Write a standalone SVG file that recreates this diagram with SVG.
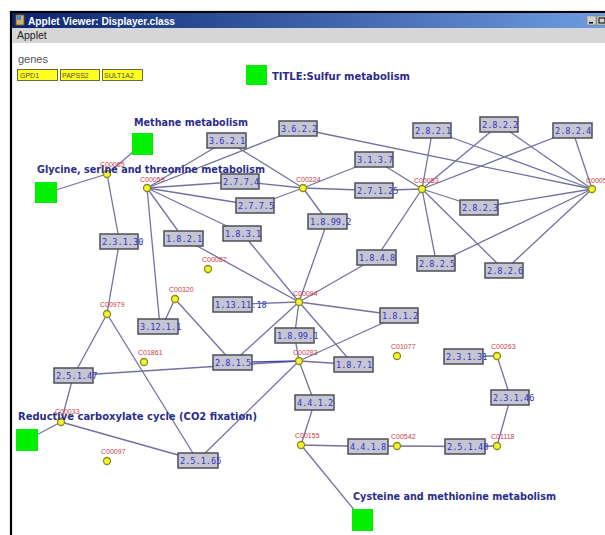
<svg xmlns="http://www.w3.org/2000/svg" width="605" height="535" viewBox="0 0 605 535">
  <defs>
    <linearGradient id="titlebar" x1="0" y1="0" x2="1" y2="0">
      <stop offset="0" stop-color="#0a2470"/>
      <stop offset="1" stop-color="#6e9ce0"/>
    </linearGradient>
    <style>
      .edge { stroke: #7272a0; stroke-width: 1.3; fill: none; }
      .enz rect { fill: #c6c6d2; stroke: #4e4e58; stroke-width: 1.5; }
      .enz text { font-family: "DejaVu Sans Mono", "Liberation Mono", monospace; font-size: 8.6px; fill: #3434c4; }
      .cpd circle { fill: #f4f43c; stroke: #8a8a10; stroke-width: 1.3; }
      .cpd text { font-family: "Liberation Sans", Arial, sans-serif; font-size: 7px; fill: #c8404a; }
      .map rect { fill: #00f000; }
      .map text { font-family: "DejaVu Sans", Verdana, sans-serif; font-weight: bold; font-size: 10px; fill: #2c2c8a; }
      .gene rect { fill: #ffff22; stroke: #6a6a40; stroke-width: 1; }
      .gene text { font-family: "Liberation Sans", Arial, sans-serif; font-size: 7px; fill: #505020; }
    </style>
  </defs>

  <rect width="605" height="535" fill="#ffffff"/>

  <!-- window chrome -->
  <g id="window">
    <rect x="11" y="12" width="600" height="530" fill="#ffffff" stroke="#000000" stroke-width="2.2"/>
    <rect x="12" y="13" width="593" height="15" fill="url(#titlebar)"/>
    <rect x="16" y="15" width="8" height="10" fill="#d8b060" stroke="#7a5a20" stroke-width="0.8"/>
    <rect x="17" y="16" width="4" height="4" fill="#4a8ad0"/>
    <text x="28" y="24.5" font-family="Liberation Sans, Arial, sans-serif" font-weight="bold" font-size="10.5" fill="#ffffff" textLength="147" lengthAdjust="spacingAndGlyphs">Applet Viewer: Displayer.class</text>
    <rect x="587" y="16" width="9" height="9" fill="#d4d0c8" stroke="#808080" stroke-width="0.6"/>
    <rect x="589" y="22" width="4" height="1.5" fill="#000"/>
    <rect x="597" y="16" width="9" height="9" fill="#d4d0c8" stroke="#808080" stroke-width="0.6"/>
    <rect x="599" y="18" width="6" height="5" fill="none" stroke="#000" stroke-width="1"/>
    <rect x="12" y="28" width="593" height="15" fill="#d6d6d6"/>
    <text x="17" y="39" font-family="Liberation Sans, Arial, sans-serif" font-size="10.5" fill="#222">Applet</text>
    <text x="18" y="63" font-family="Liberation Sans, Arial, sans-serif" font-size="11" fill="#555">genes</text>
  </g>

  <g id="genes">
    <g class="gene" id="gene-GPD1"><rect x="17.5" y="69.5" width="40" height="11"/><text x="20" y="78">GPD1</text></g>
    <g class="gene" id="gene-PAPSS2"><rect x="60.5" y="69.5" width="39" height="11"/><text x="62" y="78">PAPSS2</text></g>
    <g class="gene" id="gene-SULT1A2"><rect x="102.5" y="69.5" width="40" height="11"/><text x="104" y="78">SULT1A2</text></g>
  </g>

  <!-- connectors -->
  <g id="connectors" class="edge">
    <line x1="107" y1="174" x2="142.5" y2="144"/>
    <line x1="107" y1="174" x2="46" y2="193"/>
    <line x1="107" y1="174" x2="119.5" y2="241.5"/>
    <line x1="119.5" y1="241.5" x2="107" y2="314"/>
    <line x1="107" y1="314" x2="73.5" y2="375.5"/>
    <line x1="107" y1="314" x2="197.5" y2="460.5"/>
    <line x1="73.5" y1="375.5" x2="61" y2="422"/>
    <line x1="73.5" y1="375.5" x2="299" y2="361"/>
    <line x1="61" y1="422" x2="197.5" y2="460.5"/>
    <line x1="61" y1="422" x2="27" y2="440"/>
    <line x1="197.5" y1="460.5" x2="299" y2="361"/>
    <line x1="147" y1="188" x2="226.5" y2="140.5"/>
    <line x1="147" y1="188" x2="298.5" y2="128.5"/>
    <line x1="147" y1="188" x2="240.5" y2="181.5"/>
    <line x1="147" y1="188" x2="255.5" y2="205.5"/>
    <line x1="147" y1="188" x2="183.5" y2="238.5"/>
    <line x1="147" y1="188" x2="242.5" y2="233.5"/>
    <line x1="147" y1="188" x2="160" y2="326.5"/>
    <line x1="226.5" y1="140.5" x2="303" y2="188"/>
    <line x1="298.5" y1="128.5" x2="592" y2="189"/>
    <line x1="240.5" y1="181.5" x2="303" y2="188"/>
    <line x1="255.5" y1="205.5" x2="303" y2="188"/>
    <line x1="183.5" y1="238.5" x2="299" y2="302"/>
    <line x1="242.5" y1="233.5" x2="299" y2="302"/>
    <line x1="303" y1="188" x2="374.5" y2="159.5"/>
    <line x1="303" y1="188" x2="374.5" y2="190.5"/>
    <line x1="303" y1="188" x2="327.5" y2="221.5"/>
    <line x1="327.5" y1="221.5" x2="299" y2="302"/>
    <line x1="374.5" y1="159.5" x2="422" y2="189"/>
    <line x1="374.5" y1="190.5" x2="422" y2="189"/>
    <line x1="422" y1="189" x2="432.5" y2="130.5"/>
    <line x1="422" y1="189" x2="499.5" y2="124.5"/>
    <line x1="422" y1="189" x2="572.5" y2="130.5"/>
    <line x1="422" y1="189" x2="479.5" y2="207.5"/>
    <line x1="422" y1="189" x2="436.5" y2="263.5"/>
    <line x1="422" y1="189" x2="504.5" y2="270.5"/>
    <line x1="422" y1="189" x2="376.5" y2="257.5"/>
    <line x1="592" y1="189" x2="432.5" y2="130.5"/>
    <line x1="592" y1="189" x2="499.5" y2="124.5"/>
    <line x1="592" y1="189" x2="572.5" y2="130.5"/>
    <line x1="592" y1="189" x2="479.5" y2="207.5"/>
    <line x1="592" y1="189" x2="436.5" y2="263.5"/>
    <line x1="592" y1="189" x2="504.5" y2="270.5"/>
    <line x1="376.5" y1="257.5" x2="299" y2="302"/>
    <line x1="299" y1="302" x2="232.5" y2="304.5"/>
    <line x1="299" y1="302" x2="399.5" y2="315.5"/>
    <line x1="299" y1="302" x2="294.5" y2="335.5"/>
    <line x1="299" y1="302" x2="232.5" y2="362.5"/>
    <line x1="299" y1="302" x2="353.5" y2="364.5"/>
    <line x1="399.5" y1="315.5" x2="299" y2="361"/>
    <line x1="294.5" y1="335.5" x2="299" y2="361"/>
    <line x1="353.5" y1="364.5" x2="299" y2="361"/>
    <line x1="232.5" y1="362.5" x2="299" y2="361" stroke="#4848a8"/>
    <line x1="175" y1="299" x2="162" y2="326.5"/>
    <line x1="175" y1="299" x2="232.5" y2="362.5"/>
    <line x1="299" y1="361" x2="314.5" y2="402.5"/>
    <line x1="314.5" y1="402.5" x2="301" y2="445"/>
    <line x1="301" y1="445" x2="367.5" y2="446.5"/>
    <line x1="367.5" y1="446.5" x2="397" y2="446"/>
    <line x1="397" y1="446" x2="464.5" y2="446.5"/>
    <line x1="464.5" y1="446.5" x2="497" y2="446"/>
    <line x1="497" y1="446" x2="510.5" y2="397.5"/>
    <line x1="510.5" y1="397.5" x2="497" y2="356"/>
    <line x1="497" y1="356" x2="463.5" y2="356.5"/>
    <line x1="301" y1="445" x2="362.5" y2="520"/>
  </g>

  <!-- pathway map links -->
  <g id="map-methane" class="map"><rect x="132" y="133" width="21" height="22"/></g>
  <g id="map-glycine" class="map"><rect x="35" y="182" width="22" height="21"/></g>
  <g id="map-reductive" class="map"><rect x="16" y="429" width="22" height="22"/></g>
  <g id="map-cysteine" class="map"><rect x="352" y="509" width="21" height="22"/></g>
  <g id="map-title" class="map"><rect x="246" y="65" width="21" height="20"/></g>

  <!-- enzymes -->
  <g id="e-3.6.2.2" class="enz"><rect x="279" y="121" width="38" height="15"/><text x="281" y="132">3.6.2.2</text></g>
  <g id="e-3.6.2.1" class="enz"><rect x="207" y="133" width="39" height="15"/><text x="209" y="144">3.6.2.1</text></g>
  <g id="e-2.7.7.4" class="enz"><rect x="221" y="174" width="38" height="15"/><text x="223" y="185">2.7.7.4</text></g>
  <g id="e-2.7.7.5" class="enz"><rect x="236" y="198" width="38" height="15"/><text x="238" y="209">2.7.7.5</text></g>
  <g id="e-1.8.3.1" class="enz"><rect x="223" y="226" width="38" height="15"/><text x="225" y="237">1.8.3.1</text></g>
  <g id="e-3.1.3.7" class="enz"><rect x="355" y="152" width="38" height="15"/><text x="357" y="163">3.1.3.7</text></g>
  <g id="e-2.7.1.25" class="enz"><rect x="355" y="183" width="38" height="15"/><text x="357" y="194">2.7.1.25</text></g>
  <g id="e-1.8.99.2" class="enz"><rect x="308" y="214" width="39" height="15"/><text x="310" y="225">1.8.99.2</text></g>
  <g id="e-1.8.2.1" class="enz"><rect x="164" y="231" width="39" height="15"/><text x="166" y="242">1.8.2.1</text></g>
  <g id="e-2.3.1.30" class="enz"><rect x="100" y="234" width="38" height="15"/><text x="102" y="245">2.3.1.30</text></g>
  <g id="e-2.8.2.1" class="enz"><rect x="413" y="123" width="38" height="15"/><text x="415" y="134">2.8.2.1</text></g>
  <g id="e-2.8.2.2" class="enz"><rect x="480" y="117" width="38" height="15"/><text x="482" y="128">2.8.2.2</text></g>
  <g id="e-2.8.2.4" class="enz"><rect x="553" y="123" width="39" height="15"/><text x="555" y="134">2.8.2.4</text></g>
  <g id="e-2.8.2.3" class="enz"><rect x="460" y="200" width="38" height="15"/><text x="462" y="211">2.8.2.3</text></g>
  <g id="e-2.8.2.5" class="enz"><rect x="417" y="256" width="38" height="15"/><text x="419" y="267">2.8.2.5</text></g>
  <g id="e-2.8.2.6" class="enz"><rect x="485" y="263" width="38" height="15"/><text x="487" y="274">2.8.2.6</text></g>
  <g id="e-1.8.4.8" class="enz"><rect x="357" y="250" width="39" height="15"/><text x="359" y="261">1.8.4.8</text></g>
  <g id="e-1.13.11.18" class="enz"><rect x="213" y="297" width="39" height="15"/><text x="215" y="308">1.13.11.18</text></g>
  <g id="e-1.8.1.2" class="enz"><rect x="380" y="308" width="38" height="15"/><text x="382" y="319">1.8.1.2</text></g>
  <g id="e-1.8.99.1" class="enz"><rect x="275" y="328" width="39" height="15"/><text x="277" y="339">1.8.99.1</text></g>
  <g id="e-2.8.1.5" class="enz"><rect x="213" y="355" width="39" height="15"/><text x="215" y="366">2.8.1.5</text></g>
  <g id="e-1.8.7.1" class="enz"><rect x="334" y="357" width="39" height="15"/><text x="336" y="368">1.8.7.1</text></g>
  <g id="e-3.12.1.1" class="enz"><rect x="138" y="319" width="40" height="15"/><text x="140" y="330">3.12.1.1</text></g>
  <g id="e-2.5.1.47" class="enz"><rect x="54" y="368" width="39" height="15"/><text x="56" y="379">2.5.1.47</text></g>
  <g id="e-2.5.1.65" class="enz"><rect x="178" y="453" width="40" height="15"/><text x="180" y="464">2.5.1.65</text></g>
  <g id="e-4.4.1.2" class="enz"><rect x="295" y="395" width="39" height="15"/><text x="297" y="406">4.4.1.2</text></g>
  <g id="e-4.4.1.8" class="enz"><rect x="348" y="439" width="40" height="15"/><text x="350" y="450">4.4.1.8</text></g>
  <g id="e-2.5.1.48" class="enz"><rect x="445" y="439" width="40" height="15"/><text x="447" y="450">2.5.1.48</text></g>
  <g id="e-2.3.1.31" class="enz"><rect x="444" y="349" width="39" height="15"/><text x="446" y="360">2.3.1.31</text></g>
  <g id="e-2.3.1.46" class="enz"><rect x="491" y="390" width="38" height="15"/><text x="493" y="401">2.3.1.46</text></g>

  <!-- compounds -->
  <g id="C00065" class="cpd"><circle cx="107" cy="174" r="3.5"/><text x="100" y="167">C00065</text></g>
  <g id="C00059" class="cpd"><circle cx="147" cy="188" r="3.5"/><text x="140" y="182">C00059</text></g>
  <g id="C00224" class="cpd"><circle cx="303" cy="188" r="3.5"/><text x="296" y="182">C00224</text></g>
  <g id="C00053" class="cpd"><circle cx="422" cy="189" r="3.5"/><text x="414" y="183">C00053</text></g>
  <g id="C00054" class="cpd"><circle cx="592" cy="189" r="3.5"/><text x="586" y="183">C00054</text></g>
  <g id="C00094" class="cpd"><circle cx="299" cy="302" r="3.5"/><text x="293" y="296">C00094</text></g>
  <g id="C00087" class="cpd"><circle cx="208" cy="269" r="3.5"/><text x="202" y="262">C00087</text></g>
  <g id="C00320" class="cpd"><circle cx="175" cy="299" r="3.5"/><text x="169" y="292">C00320</text></g>
  <g id="C00979" class="cpd"><circle cx="107" cy="314" r="3.5"/><text x="100" y="307">C00979</text></g>
  <g id="C01861" class="cpd"><circle cx="144" cy="362" r="3.5"/><text x="138" y="355">C01861</text></g>
  <g id="C00283" class="cpd"><circle cx="299" cy="361" r="3.5"/><text x="293" y="355">C00283</text></g>
  <g id="C01077" class="cpd"><circle cx="397" cy="356" r="3.5"/><text x="391" y="349">C01077</text></g>
  <g id="C00263" class="cpd"><circle cx="497" cy="356" r="3.5"/><text x="491" y="349">C00263</text></g>
  <g id="C01118" class="cpd"><circle cx="497" cy="446" r="3.5"/><text x="491" y="439">C01118</text></g>
  <g id="C00542" class="cpd"><circle cx="397" cy="446" r="3.5"/><text x="391" y="439">C00542</text></g>
  <g id="C00155" class="cpd"><circle cx="301" cy="445" r="3.5"/><text x="295" y="438">C00155</text></g>
  <g id="C00033" class="cpd"><circle cx="61" cy="422" r="3.5"/><text x="55" y="414">C00033</text></g>
  <g id="C00097" class="cpd"><circle cx="107" cy="461" r="3.5"/><text x="101" y="454">C00097</text></g>

  <!-- pathway titles -->
  <g class="map">
    <text x="272" y="80" textLength="138" lengthAdjust="spacingAndGlyphs">TITLE:Sulfur metabolism</text>
    <text x="134" y="126" textLength="114" lengthAdjust="spacingAndGlyphs">Methane metabolism</text>
    <text x="37" y="173" textLength="228" lengthAdjust="spacingAndGlyphs">Glycine, serine and threonine metabolism</text>
    <text x="18" y="420" textLength="239" lengthAdjust="spacingAndGlyphs">Reductive carboxylate cycle (CO2 fixation)</text>
    <text x="353" y="500" textLength="203" lengthAdjust="spacingAndGlyphs">Cysteine and methionine metabolism</text>
  </g>
</svg>
